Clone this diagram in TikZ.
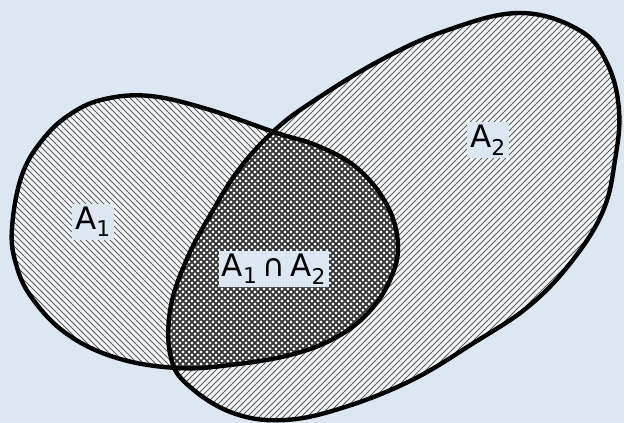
\documentclass[tikz,border=0pt]{standalone}
\usepackage{fontspec}
\setmainfont{DejaVu Sans}
\usetikzlibrary{positioning}
\definecolor{vnbg}{HTML}{DDE7F2}
\definecolor{vnhatch}{HTML}{5A5A5A}
\newcommand{\setAone}{plot[smooth cycle, tension=0.65] coordinates {
  (12,228) (22,175) (44,138) (72,113) (105,99) (150,96) (207,109) (277,133)
  (318,146) (357,168) (387,205) (398,245) (390,280) (368,313) (335,338)
  (290,355) (230,365) (177,368) (117,358) (67,334) (32,298) (16,264)}}
\newcommand{\setAtwo}{plot[smooth cycle, tension=0.65] coordinates {
  (312,102) (379,61) (445,31) (519,13) (579,30) (607,63) (619,110) (615,160)
  (603,211) (572,261) (529,306) (472,344) (412,380) (345,407) (285,420)
  (233,413) (189,386) (171,358) (170,311) (186,261) (212,212) (240,168) (275,130)}}

\begin{document}
\begin{tikzpicture}[x=1pt, y=-1pt,
    outline/.style={line width=4.4pt, color=black},
    hatch/.style={line width=0.9pt, color=vnhatch},
    cross/.style={line width=1.6pt, color=black!80},
    lab/.style={fill=vnbg, inner sep=3pt, font=\fontsize{31}{31}\selectfont}
  ]
  \fill[vnbg, use as bounding box] (0,0) rectangle (624,423);
  \fill[white!70!vnbg] \setAone;
  \fill[white!70!vnbg] \setAtwo;

  \begin{scope}
    \clip \setAone;
    \foreach \s in {-460,-454,...,640}
      \draw[hatch] (\s,0) -- ++(440,440);
  \end{scope}
  \begin{scope}
    \clip \setAtwo;
    \foreach \s in {-20,-14,...,1080}
      \draw[hatch] (\s,0) -- ++(-440,440);
  \end{scope}
  \begin{scope}
    \clip \setAone;
    \clip \setAtwo;
    \foreach \s in {-460,-454,...,640}
      \draw[cross] (\s,0) -- ++(440,440);
    \foreach \s in {-20,-14,...,1080}
      \draw[cross] (\s,0) -- ++(-440,440);
  \end{scope}

  \draw[outline] \setAone;
  \draw[outline] \setAtwo;

  \node[lab] (aone) at (93,222) {A\textsubscript{1}};
  \node[lab] (atwo) at (488,140) {A\textsubscript{2}};
  \node[lab] (both) at (274,269) {A\textsubscript{1}\,∩\,A\textsubscript{2}};
\end{tikzpicture}
\end{document}
